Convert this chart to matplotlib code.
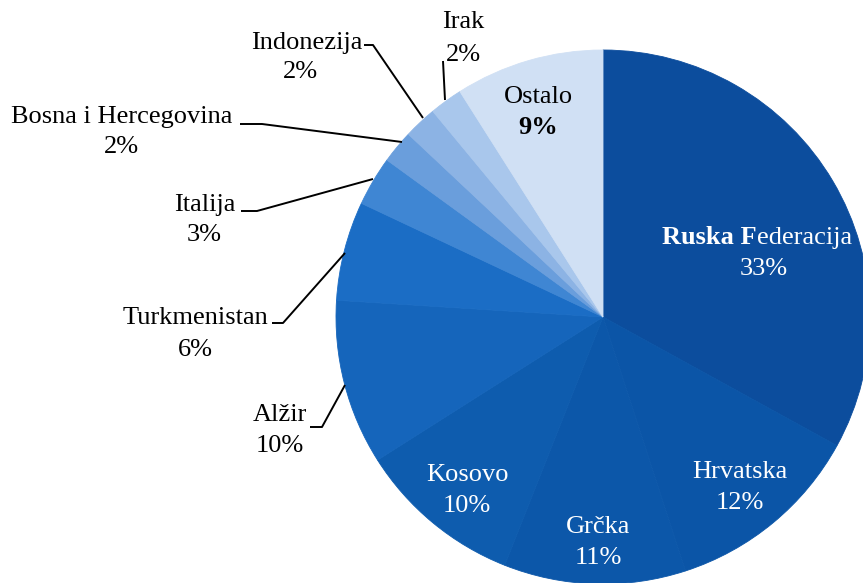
import matplotlib
matplotlib.use("Agg")
import matplotlib.pyplot as plt

categories = ["Ruska Federacija", "Hrvatska", "Grčka", "Kosovo", "Alžir",
              "Turkmenistan", "Italija", "Bosna i Hercegovina", "Indonezija",
              "Irak", "Ostalo"]
values = [33, 12, 11, 10, 10, 6, 3, 2, 2, 2, 9]
pct_labels = ["33%", "12%", "11%", "10%", "10%", "6%", "3%", "2%", "2%", "2%", "9%"]
colors = ["#0c4d9d", "#0b55a7", "#0c57a9", "#0e5cae", "#1565bb", "#1b6dc5",
          "#3f86d3", "#6a9edc", "#8cb3e4", "#a9c7ec", "#d0e0f4"]

W, H = 863, 583
fig = plt.figure(figsize=(W / 100, H / 100), dpi=100)
ax = fig.add_axes([0, 0, 1, 1])

def Y(y):
    return H - y

cx, cy, R = 603, 317, 267
wedges, _ = ax.pie(values, colors=colors, startangle=90, counterclock=False,
                   center=(cx, Y(cy)), radius=R, frame=True)
for w, c in zip(wedges, colors):
    w.set_edgecolor(c)
    w.set_linewidth(0.6)
ax.set_xlim(0, W)
ax.set_ylim(0, H)
ax.set_aspect("equal")
ax.axis("off")

font = "Liberation Serif"
fs = 19

# Ruska Federacija: "Ruska F" bold, "ederacija" regular
ax.text(757, Y(238), "Ruska F", ha="right", va="center", fontsize=fs,
        family=font, fontweight="bold", color="white")
ax.text(757, Y(238), "ederacija", ha="left", va="center", fontsize=fs,
        family=font, color="white")
ax.text(764, Y(269), pct_labels[0], ha="center", va="center", fontsize=fs,
        family=font, color="white")

inside = {
    1: (740, 472, 503),
    2: (598, 527, 558),
    3: (467, 475, 506),
}
for i, (x, y1, y2) in inside.items():
    ax.text(x, Y(y1), categories[i], ha="center", va="center", fontsize=fs,
            family=font, color="white")
    ax.text(x, Y(y2), pct_labels[i], ha="center", va="center", fontsize=fs,
            family=font, color="white")

# Ostalo
ax.text(538, Y(97), categories[10], ha="center", va="center", fontsize=fs,
        family=font, color="black")
ax.text(538, Y(127), pct_labels[10], ha="center", va="center", fontsize=fs,
        family=font, color="black", fontweight="bold")

# Outside labels: (index, name_x, name_y, pct_x, pct_y, ha, leader points)
outside = [
    (9, 463, 22, 463, 55, "center", [(443, 61), (445, 100)]),
    (8, 362, 43, 300, 72, "right", [(364, 45), (373, 45), (423, 118)]),
    (7, 232, 117, 121, 147, "right", [(240, 124), (262, 124), (402, 142)]),
    (6, 235, 205, 204, 235, "right", [(241, 211), (257, 211), (373, 179)]),
    (5, 268, 318, 195, 350, "right", [(272, 323), (283, 323), (345, 253)]),
    (4, 307, 415, 280, 446, "right", [(310, 427), (322, 427), (345, 385)]),
]
for i, nx, ny, px, py, ha, pts in outside:
    ax.text(nx, Y(ny), categories[i], ha=ha, va="center", fontsize=fs,
            family=font, color="black")
    ax.text(px, Y(py), pct_labels[i], ha="center", va="center", fontsize=fs,
            family=font, color="black")
    xs = [p[0] for p in pts]
    ys = [Y(p[1]) for p in pts]
    ax.plot(xs, ys, color="black", linewidth=1.4, solid_capstyle="butt")

fig.savefig("out.png", dpi=100)
